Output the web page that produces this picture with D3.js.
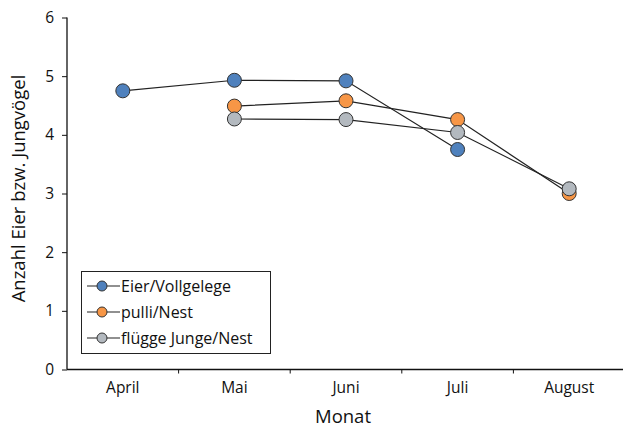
<!DOCTYPE html>
<html><head><meta charset="utf-8">
<script src="https://cdn.jsdelivr.net/npm/d3@7"></script>
<style>body{margin:0;background:#fff}svg{display:block}text{font-family:"Open Sans",sans-serif;fill:#111}</style>
</head><body><svg id="c" width="623" height="428"></svg>
<script>
const months = ["April","Mai","Juni","Juli","August"];
const seriesNames = ["Eier/Vollgelege","pulli/Nest","flügge Junge/Nest"];
const eier = [4.75, 4.93, 4.92, 3.75, null];
const pulli = [null, 4.49, 4.58, 4.26, 3.00];
const fluegge = [null, 4.27, 4.26, 4.04, 3.08];
const yTicks = [0,1,2,3,4,5,6];
const colors = ["#4F81BD","#F79646","#B3B9BF"];

const svg = d3.select("#c");
const x = d3.scaleBand().domain(months).range([67,625]);
const y = d3.scaleLinear().domain([0,6]).range([369.5,17.5]);

const gy = svg.append("g").attr("transform","translate(67,0)")
  .call(d3.axisLeft(y).tickValues(yTicks).tickSize(5).tickPadding(8).tickFormat(d3.format("d")));
const gx = svg.append("g").attr("transform","translate(0,369.5)")
  .call(d3.axisBottom(x).tickSize(0).tickPadding(12));
gx.selectAll(".tick line").remove();
gx.selectAll(".bt").data(months.slice(1)).enter().append("line")
  .attr("x1",d=>x(d)).attr("x2",d=>x(d)).attr("y1",0).attr("y2",4).attr("stroke","#111");
[gx,gy].forEach(g=>{g.select(".domain").attr("stroke","#111").attr("stroke-width",1.3);
  g.selectAll("line").attr("stroke","#111");
  g.selectAll("text").style("font-size","15.5px").attr("fill","#111");});
gy.select(".domain").attr("d","M0,17.5V369.5");
gx.select(".domain").attr("d","M67,0H625");

svg.append("text").attr("x",343).attr("y",423).attr("text-anchor","middle").style("font-size","18.5px").text("Monat");
svg.append("text").attr("transform","translate(25,188.5) rotate(-90)").attr("text-anchor","middle").style("font-size","18.5px").text("Anzahl Eier bzw. Jungvögel");

const data = [eier,pulli,fluegge];
const line = d3.line().defined(d=>d!=null).x((d,i)=>x(months[i])+x.bandwidth()/2).y(d=>y(d));
data.forEach((s,k)=>{
  svg.append("path").attr("d",line(s)).attr("fill","none").attr("stroke","#222").attr("stroke-width",1.2);
});
data.forEach((s,k)=>{
  svg.selectAll(null).data(s.map((v,i)=>({v,i})).filter(d=>d.v!=null)).enter().append("circle")
    .attr("cx",d=>x(months[d.i])+x.bandwidth()/2).attr("cy",d=>y(d.v)).attr("r",7)
    .attr("fill",colors[k]).attr("stroke","#333").attr("stroke-width",1);
});

const lg = svg.append("g");
lg.append("rect").attr("x",81.5).attr("y",271.5).attr("width",189).attr("height",82).attr("fill","#fff").attr("stroke","#222").attr("stroke-width",1);
seriesNames.forEach((n,k)=>{
  const yy = 286 + k*26;
  lg.append("line").attr("x1",87).attr("x2",120).attr("y1",yy).attr("y2",yy).attr("stroke","#222").attr("stroke-width",1.2);
  lg.append("circle").attr("cx",102).attr("cy",yy).attr("r",5).attr("fill",colors[k]).attr("stroke","#333");
  lg.append("text").attr("x",121).attr("y",yy+5.5).style("font-size","16px").text(n);
});
</script></body></html>
